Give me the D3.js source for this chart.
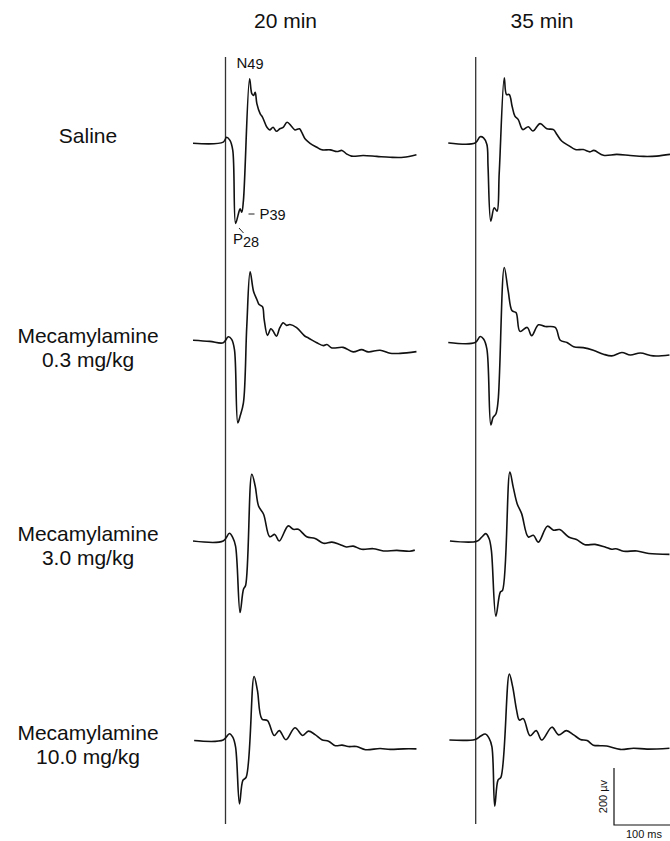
<!DOCTYPE html>
<html><head><meta charset="utf-8">
<script src="https://cdn.jsdelivr.net/npm/d3@7"></script>
<style>body{margin:0;background:#fff}svg{display:block}text{font-family:"Liberation Sans",Arial,Helvetica,sans-serif;fill:#111}</style>
</head><body><svg id="c" width="670" height="841"></svg>
<script>
// Column titles and row labels
const columns = ["20 min", "35 min"];
const rowLabels = [["Saline"], ["Mecamylamine", "0.3 mg/kg"], ["Mecamylamine", "3.0 mg/kg"], ["Mecamylamine", "10.0 mg/kg"]];
// Traces: [time ms (0 = stimulus), amplitude µV (positive drawn downward)]
const saline20 = [[-58,1],[-4,-3],[2,-20],[8,-9],[13,26],[18,282],[23,249],[26,231],[29,243],[32,202],[43,-225],[47,-173],[50,-167],[53,-178],[56,-138],[62,-102],[66,-91],[74,-55],[79,-46],[85,-55],[91,-41],[97,-50],[103,-55],[110,-73],[118,-58],[124,-46],[132,-50],[136,-38],[142,-15],[151,1],[163,15],[172,24],[187,24],[199,30],[208,26],[216,38],[225,46],[246,44],[270,47],[294,50],[318,50],[341,41]];
const meca03_20 = [[-58,-8],[-28,-4],[-4,1],[5,-20],[11,-11],[16,25],[22,282],[26,259],[32,212],[38,-57],[44,-248],[50,-180],[56,-151],[60,-133],[66,-126],[69,-81],[75,-25],[81,-48],[85,-40],[91,-22],[97,-52],[103,-69],[109,-60],[115,-63],[127,-52],[142,-22],[148,-16],[163,1],[175,11],[181,7],[190,19],[210,17],[228,33],[243,25],[255,33],[276,27],[294,38],[312,38],[341,32]];
const meca3_20 = [[-58,0],[-4,0],[7,-27],[13,-12],[18,18],[26,251],[32,170],[36,155],[47,-234],[53,-193],[59,-123],[68,-94],[79,-15],[88,-23],[96,0],[112,-53],[121,-41],[130,-41],[145,-15],[160,-9],[175,8],[190,4],[204,12],[216,21],[228,18],[243,29],[264,27],[282,35],[306,33],[329,36],[338,32]];
const meca10_20 = [[-56,2],[-4,0],[7,-22],[13,-10],[18,25],[25,224],[31,142],[37,130],[51,-223],[57,-174],[65,-74],[75,-68],[87,-16],[96,-33],[108,-1],[124,-43],[138,-16],[148,-31],[160,-19],[172,-1],[184,4],[196,20],[208,18],[219,23],[234,23],[250,34],[276,30],[294,33],[318,31],[341,31]];
const saline35 = [[-49,0],[-1,0],[8,-22],[14,-18],[20,5],[22,81],[27,274],[33,227],[38,239],[42,105],[51,-229],[55,-170],[60,-170],[65,-129],[70,-94],[76,-82],[84,-47],[94,-57],[102,-42],[115,-68],[127,-50],[139,-47],[145,-30],[154,-6],[166,9],[178,23],[192,23],[204,31],[211,26],[228,43],[252,40],[276,44],[300,47],[323,46],[347,40]];
const meca03_35 = [[-49,0],[-1,0],[8,-21],[14,-12],[20,23],[27,289],[31,263],[36,251],[40,205],[51,-263],[58,-181],[65,-111],[72,-105],[79,-39],[92,-53],[100,-24],[112,-62],[124,-56],[142,-53],[151,-8],[163,0],[175,15],[192,18],[210,27],[228,41],[243,47],[261,35],[276,44],[294,37],[317,47],[346,44]];
const meca3_35 = [[-46,0],[2,1],[11,-14],[18,-26],[24,-8],[28,33],[36,264],[44,179],[48,173],[61,-242],[67,-189],[74,-131],[82,-96],[94,-14],[103,-20],[112,4],[128,-52],[139,-38],[150,-40],[166,-14],[180,-5],[195,13],[213,12],[231,21],[243,29],[250,27],[264,36],[288,35],[309,44],[346,47]];
const meca10_35 = [[-47,0],[-1,-2],[9,-14],[17,-21],[24,-6],[29,24],[34,232],[40,140],[45,131],[60,-231],[66,-187],[73,-105],[78,-70],[85,-75],[97,-15],[108,-33],[118,0],[136,-45],[148,-18],[162,-33],[175,-18],[187,-2],[199,2],[210,18],[222,20],[234,21],[258,33],[282,29],[306,32],[346,29]];
const traces = [[saline20, saline35], [meca03_20, meca03_35], [meca3_20, meca3_35], [meca10_20, meca10_35]];
// Scale bar values
const scaleBarMs = 100, scaleBarUv = 200;
const scaleBarLabels = ["100 ms", "200 µv"];

const svg = d3.select("#c");
const W = 670, H = 841;
const colStim = [225.5, 475.7];          // stimulus marker positions
const rowBase = [143, 342.5, 541, 740];  // trace baselines
const pxPerMs = 0.56, pxPerUv = 57 / 200;

const xs = colStim.map(x0 => d3.scaleLinear().domain([0, 100]).range([x0, x0 + 100 * pxPerMs]));
const ys = rowBase.map(y0 => d3.scaleLinear().domain([0, 200]).range([y0, y0 + 200 * pxPerUv]));

svg.append("defs").append("clipPath").attr("id", "clip").append("rect").attr("x", 0).attr("y", 0).attr("width", W).attr("height", H);

// stimulus lines
colStim.forEach(x => svg.append("line").attr("x1", x).attr("x2", x).attr("y1", 57).attr("y2", 824)
  .attr("stroke", "#333").attr("stroke-width", 1.3));

// column titles
columns.forEach((c, i) => svg.append("text").attr("x", [285.5, 542][i]).attr("y", 28)
  .attr("text-anchor", "middle").attr("font-size", 21).text(c));

// row labels
rowLabels.forEach((lines, r) => {
  lines.forEach((s, k) => svg.append("text").attr("x", 88).attr("y", rowBase[r] + k * 24)
    .attr("text-anchor", "middle").attr("font-size", 21).text(s));
});

// traces
traces.forEach((pair, r) => pair.forEach((data, c) => {
  const line = d3.line().x(d => xs[c](d[0])).y(d => ys[r](d[1])).curve(d3.curveCatmullRom.alpha(0.5));
  svg.append("path").attr("d", line(data)).attr("fill", "none").attr("stroke", "#111")
    .attr("stroke-width", 1.6).attr("stroke-linejoin", "round").attr("clip-path", "url(#clip)");
}));

// component annotations on the first trace
const g = svg.append("g").attr("font-size", 15);
const tN = g.append("text").attr("x", 236.5).attr("y", 68);
tN.append("tspan").text("N");
tN.append("tspan").attr("font-size", 14.5).attr("dy", 1).text("49");
svg.append("line").attr("x1", 248.5).attr("x2", 254.5).attr("y1", 214).attr("y2", 214).attr("stroke", "#222").attr("stroke-width", 1);
const tP39 = g.append("text").attr("x", 259.5).attr("y", 219);
tP39.append("tspan").text("P");
tP39.append("tspan").attr("font-size", 14.5).attr("dy", 1).text("39");
svg.append("line").attr("x1", 239).attr("x2", 243.5).attr("y1", 228).attr("y2", 233).attr("stroke", "#222").attr("stroke-width", 1);
const tP28 = g.append("text").attr("x", 233).attr("y", 244);
tP28.append("tspan").text("P");
tP28.append("tspan").attr("font-size", 14.5).attr("dy", 3).text("28");

// scale bar
const sbX = 614, sbY = 825;
const sbW = xs[1](scaleBarMs) - xs[1](0), sbH = ys[3](scaleBarUv) - ys[3](0);
svg.append("path").attr("d", `M${sbX},${sbY - sbH}V${sbY}H${sbX + sbW}`).attr("fill", "none")
  .attr("stroke", "#111").attr("stroke-width", 1.2);
svg.append("text").attr("x", sbX + sbW / 2 + 2).attr("y", 838).attr("text-anchor", "middle").attr("font-size", 11).text(scaleBarLabels[0]);
svg.append("text").attr("transform", `translate(607,${sbY - sbH / 2}) rotate(-90)`).attr("text-anchor", "middle")
  .attr("font-size", 11).text(scaleBarLabels[1]);
</script></body></html>
